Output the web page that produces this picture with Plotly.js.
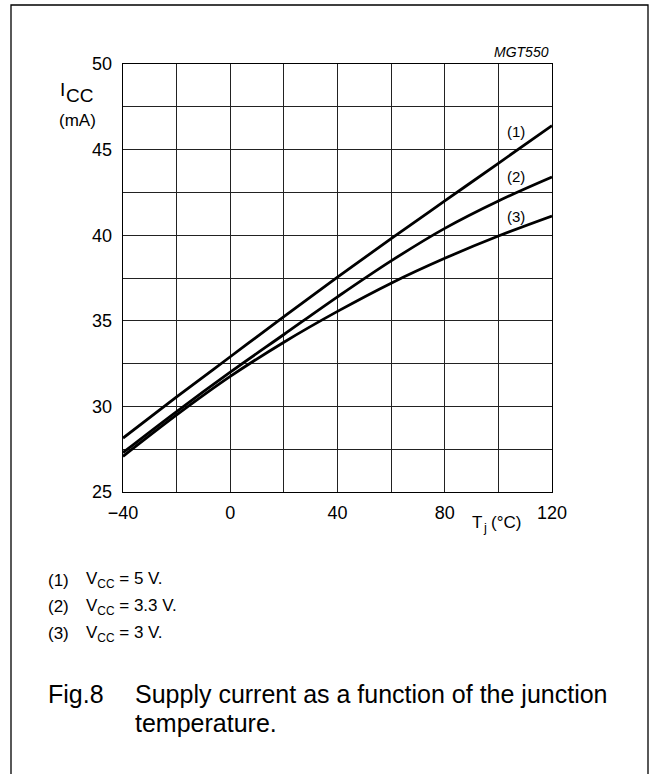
<!DOCTYPE html>
<html>
<head>
<meta charset="utf-8">
<script src="https://cdn.plot.ly/plotly-3.0.1.min.js"></script>
<style>
html,body{margin:0;padding:0;background:#fff;}
#chart{width:655px;height:774px;}
</style>
</head>
<body>
<div id="chart"></div>
<script>
// Data
const tj = [-40, -20, 0, 20, 40, 60, 80, 100, 120];
const icc5v = [28.15, 30.55, 32.9, 35.25, 37.55, 39.8, 42.0, 44.2, 46.4];
const icc33v = [27.3, 29.7, 32.0, 34.2, 36.4, 38.5, 40.4, 42.0, 43.4];
const icc3v = [27.08, 29.5, 31.75, 33.75, 35.55, 37.2, 38.65, 39.95, 41.12];
const curveLabels = ["(1)", "(2)", "(3)"];
const noteNumbers = ["(1)", "(2)", "(3)"];
const noteTexts = ["V<sub>CC</sub> = 5 V.", "V<sub>CC</sub> = 3.3 V.", "V<sub>CC</sub> = 3 V."];

const FONT = "Liberation Sans, Arial, Helvetica, sans-serif";
const L = 123, R = 552, T = 64, B = 492, WIDTH = 655, HEIGHT = 774;
const PW = R - L, PH = B - T;
const px = x => (x - L) / PW;
const py = y => (B - y) / PH;
const f = s => ({family: FONT, size: s, color: "#000"});

const lineStyle = {color: "#000", width: 2.8, shape: "spline", smoothing: 1};
const traces = [icc5v, icc33v, icc3v].map(v => ({
  x: tj, y: v, type: "scatter", mode: "lines", line: lineStyle,
  hoverinfo: "skip", showlegend: false
}));

const annotations = [];
function ann(text, x, y, font, opts) {
  annotations.push(Object.assign({
    text: text, xref: "paper", yref: "paper", x: px(x), y: py(y),
    showarrow: false, xanchor: "left", yanchor: "middle", font: font,
    borderpad: 0
  }, opts || {}));
}
// Axis titles
ann("I", 59, 89, f(19));
ann("CC", 65, 95, f(19));
ann("(mA)", 58, 120, f(17));
ann("T", 471, 522, f(17));
ann("j", 482, 527, f(13));
ann("(°C)", 490, 522, f(17));
ann("MGT550", 550, 52, {family: FONT, size: 14, color: "#000", style: "italic"}, {xanchor: "right"});
// Curve labels
const curveLabelY = [131, 177, 216];
curveLabels.forEach((t, i) => ann(t, 506, curveLabelY[i], f(15)));
// Notes
const noteY = [580, 606.5, 633.5];
noteNumbers.forEach((t, i) => ann(t, 47, noteY[i], f(17)));
noteTexts.forEach((t, i) => ann(t, 85, noteY[i], f(17)));
// Caption
ann("Fig.8", 47, 694, f(25));
ann("Supply current as a function of the junction", 134, 694, f(25));
ann("temperature.", 134, 723, f(25));

const shapes = [{
  type: "rect", xref: "paper", yref: "paper",
  x0: px(11), x1: px(648), y0: py(800), y1: py(5),
  line: {color: "#000", width: 1.3}, fillcolor: "rgba(0,0,0,0)", layer: "below"
}];

const layout = {
  width: WIDTH, height: HEIGHT,
  margin: {l: L, r: WIDTH - R, t: T, b: HEIGHT - B, pad: 0},
  paper_bgcolor: "#fff", plot_bgcolor: "#fff",
  font: f(18),
  showlegend: false,
  xaxis: {
    range: [-40, 120], tickmode: "linear", tick0: -40, dtick: 40,
    showgrid: true, gridcolor: "#222", gridwidth: 1,
    minor: {tickmode: "linear", tick0: -40, dtick: 20, showgrid: true, gridcolor: "#222", gridwidth: 1},
    showline: true, linecolor: "#000", linewidth: 1.3, mirror: true,
    ticks: "", zeroline: false, ticklabelstandoff: 4,
    tickfont: f(18)
  },
  yaxis: {
    range: [25, 50], tickmode: "linear", tick0: 25, dtick: 5,
    showgrid: true, gridcolor: "#222", gridwidth: 1,
    minor: {tickmode: "linear", tick0: 25, dtick: 2.5, showgrid: true, gridcolor: "#222", gridwidth: 1},
    showline: true, linecolor: "#000", linewidth: 1.3, mirror: true,
    ticks: "", zeroline: false, ticklabelstandoff: 6,
    tickfont: f(18)
  },
  annotations: annotations,
  shapes: shapes
};

Plotly.newPlot("chart", traces, layout, {staticPlot: true, displayModeBar: false});
</script>
</body>
</html>
